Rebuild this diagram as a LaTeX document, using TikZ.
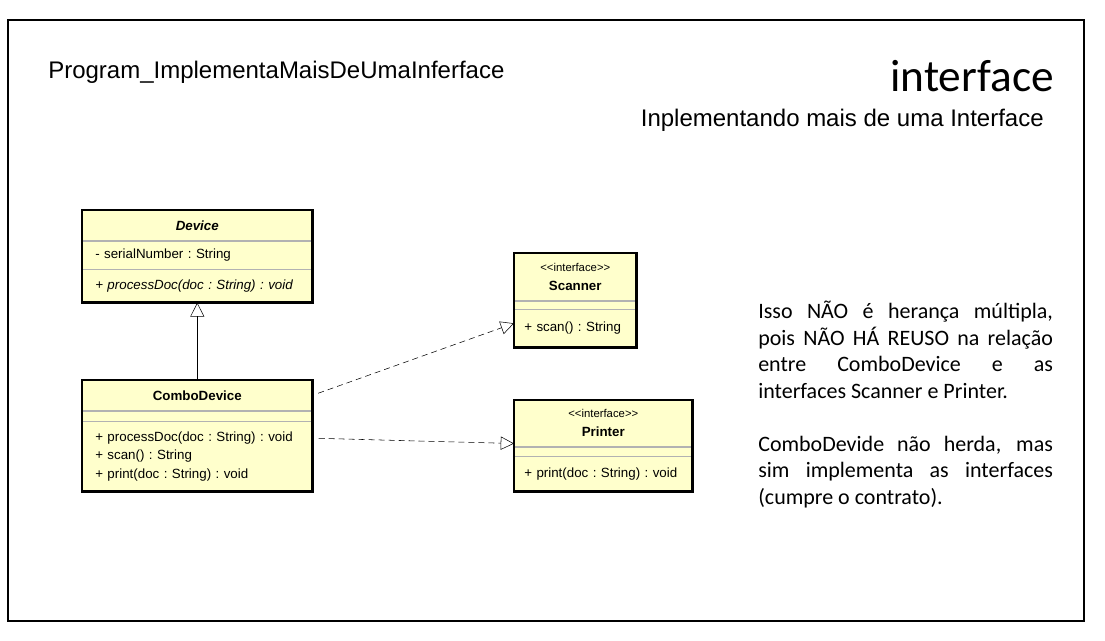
\documentclass[tikz,border=0pt]{standalone}
\usepackage{fontspec}
\setmainfont{Liberation Sans}
\newfontfamily\calibri{Carlito}
\usetikzlibrary{positioning,arrows.meta,calc}
\definecolor{umlyellow}{RGB}{255,255,204}

\begin{document}
\begin{tikzpicture}[x=0.75pt,y=-0.75pt]
\tikzstyle{part}=[%
draw=gray!60, fill=umlyellow,
inner sep=0pt,
font=\fontsize{10}{14}\selectfont\frenchspacing
]
\tikzstyle{head}=[part, align=center]
\tikzstyle{body}=[part, inner xsep=9.75pt, align=left]
\tikzstyle{ibody}=[part, inner xsep=7.5pt, align=left]
\tikzstyle{outline}=[line width=2pt]
\tikzstyle{realize}=[dashed, dash pattern=on 4.5pt off 3pt, thin, -{Triangle[open,length=10pt,width=10pt]}]
\useasboundingbox (0,0) rectangle (1105,641);
   \draw[line width=2.2pt] (8,20) rectangle (1084,621);
   \node[anchor=base west, inner sep=0pt, font=\fontsize{18}{22}\selectfont] (prog) at (48,79) {Program\_ImplementaMaisDeUmaInferface};
   \node[anchor=base east, inner sep=0pt, font=\calibri\fontsize{34}{40}\selectfont] (topic) at (1054,92) {interface};
   \node[anchor=base east, inner sep=0pt, font=\fontsize{18}{22}\selectfont] (subtitle) at (1044,127) {Inplementando mais de uma Interface};

   \node[head, minimum width=172.5pt, minimum height=22.5pt, anchor=north west] (devH) at (82,210) {\bfseries\itshape Device};
   \node[body, text width=153pt, minimum height=21pt, below=0pt of devH] (devA) {- serialNumber : String};
   \node[body, text width=153pt, minimum height=24.75pt, below=0pt of devA] (devM) {\itshape + processDoc(doc : String) : void};
   \draw[outline] (devH.north west) rectangle (devM.south east);

   \node[head, minimum width=172.5pt, minimum height=22.5pt, anchor=north west] (comboH) at (82,380) {\bfseries ComboDevice};
   \node[body, text width=153pt, minimum height=7.5pt, below=0pt of comboH] (comboE) {};
   \node[body, text width=153pt, minimum height=52.5pt, below=0pt of comboE] (comboM) {+ processDoc(doc : String) : void\\+ scan() : String\\+ print(doc : String) : void};
   \draw[outline] (comboH.north west) rectangle (comboM.south east);

   \node[head, minimum width=91.5pt, minimum height=35.25pt, anchor=north west] (scanH) at (514,253) {{\fontsize{8.5}{14.5}\selectfont {<}{<}interface{>}{>}}\\\bfseries Scanner};
   \node[ibody, text width=76.5pt, minimum height=6pt, below=0pt of scanH] (scanE) {};
   \node[ibody, text width=76.5pt, minimum height=28.5pt, below=0pt of scanE] (scanM) {\mbox{+ scan() : String}};
   \draw[outline] (scanH.north west) rectangle (scanM.south east);

   \node[head, minimum width=133.5pt, minimum height=34.5pt, anchor=north west] (printH) at (514,400) {{\fontsize{8.5}{14.5}\selectfont {<}{<}interface{>}{>}}\\\bfseries Printer};
   \node[ibody, text width=118.5pt, minimum height=6.75pt, below=0pt of printH] (printE) {};
   \node[ibody, text width=118.5pt, minimum height=26.25pt, below=0pt of printE] (printM) {\mbox{+ print(doc : String) : void}};
   \draw[outline] (printH.north west) rectangle (printM.south east);

   \draw[thin, -{Triangle[open,length=10.5pt,width=10.5pt]}] (comboH.north) -- (devM.south);
   \coordinate (scanIn) at ($(scanM.west)+(0,-5)$);
   \coordinate (printIn) at ($(printH.south west)+(0,-3)$);
   \coordinate (comboOut) at ($(comboM.east)+(6,-18)$);
   \draw[realize, shorten <=4.5pt] (comboH.east) -- (scanIn);
   \draw[realize] (comboOut) -- (printIn);

   \node[anchor=north west, text width=221pt, align=justify, inner sep=0pt, font=\calibri\fontsize{16.5}{19.9}\selectfont] (note) at (758,301) {Isso NÃO é herança múltipla,\linebreak pois NÃO HÁ REUSO na relação\linebreak entre ComboDevice e as\linebreak interfaces Scanner e Printer.\par\vspace{19.9pt}ComboDevide não herda, mas\linebreak sim implementa as interfaces\linebreak (cumpre o contrato).};
\end{tikzpicture}
\end{document}
